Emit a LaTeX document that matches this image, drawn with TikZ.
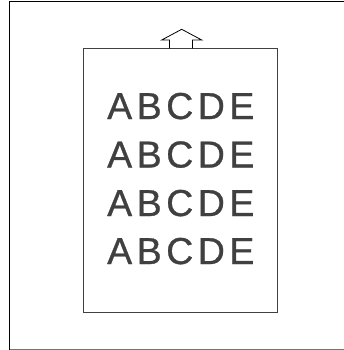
\documentclass[tikz,border=0pt]{standalone}
\usepackage{fontspec}
\setmainfont{Liberation Sans}
\newfontfamily\rowfont[LetterSpace=12,FakeBold=0.8]{Liberation Sans}
\begin{document}
\begin{tikzpicture}[x=1pt,y=-1pt,
  frameline/.style={line width=1pt},
  sheet/.style={draw=black!75,line width=0.9pt},
  rowtext/.style={text=black!75,font=\rowfont\fontsize{37.5}{37.5}\selectfont,inner sep=0pt,anchor=base west}]
\useasboundingbox (0,0) rectangle (344,350);
\draw[frameline,black] (9.5,350) -- (9.5,2) -- (344,2);
\draw[frameline,black!55] (9.5,349.3) -- (344,349.3);
\node[sheet,minimum width=193.5pt,minimum height=264pt,anchor=north west,inner sep=0pt] (page) at (83.3,48.3) {};
\coordinate (sl) at (169.5,48.3);
\coordinate (sr) at (192.5,48.3);
\draw[black,line width=0.8pt,line join=miter] (sl) -- (169.5,40) -- (161.7,40) -- (181.7,29.3) -- (201.7,40) -- (192.5,40) -- (sr);
\node[rowtext] (r1) at (107,119) {ABCDE};
\node[rowtext] (r2) at (107,167.5) {ABCDE};
\node[rowtext] (r3) at (107,216) {ABCDE};
\node[rowtext] (r4) at (107,264) {ABCDE};
\end{tikzpicture}
\end{document}
